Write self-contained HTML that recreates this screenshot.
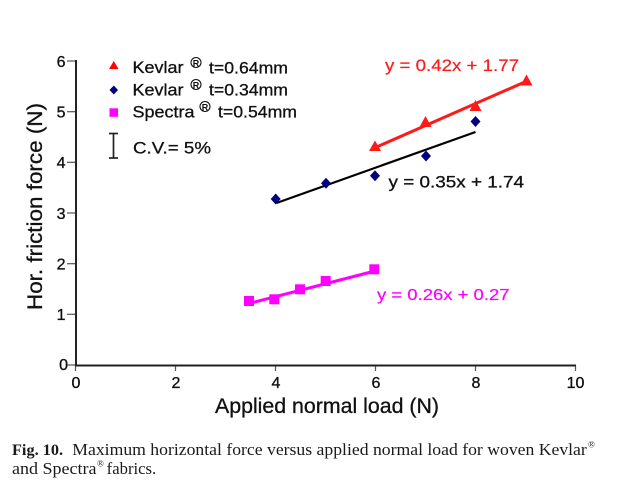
<!DOCTYPE html>
<html>
<head>
<meta charset="utf-8">
<style>
  html, body { margin: 0; padding: 0; background: #fff; }
  body { width: 639px; height: 494px; overflow: hidden; }
  svg { display: block; }
  .sans { font-family: "Liberation Sans", Arial, sans-serif; }
  .serif { font-family: "Liberation Serif", "Times New Roman", serif; }
</style>
</head>
<body>
<svg width="639" height="494" viewBox="0 0 639 494" xmlns="http://www.w3.org/2000/svg">
  <rect x="0" y="0" width="639" height="494" fill="#fff"/>

  <!-- y ticks -->
  <g stroke="#555" stroke-width="1.2">
    <line x1="67" y1="61" x2="76" y2="61"/>
    <line x1="67" y1="111.7" x2="76" y2="111.7"/>
    <line x1="67" y1="162.3" x2="76" y2="162.3"/>
    <line x1="67" y1="213" x2="76" y2="213"/>
    <line x1="67" y1="263.7" x2="76" y2="263.7"/>
    <line x1="67" y1="314.3" x2="76" y2="314.3"/>
    <line x1="67" y1="365" x2="76" y2="365"/>
  </g>
  <!-- x ticks -->
  <g stroke="#555" stroke-width="1.2">
    <line x1="75.5" y1="365" x2="75.5" y2="371"/>
    <line x1="175.5" y1="365" x2="175.5" y2="371"/>
    <line x1="275.5" y1="365" x2="275.5" y2="371"/>
    <line x1="375.5" y1="365" x2="375.5" y2="371"/>
    <line x1="475.5" y1="365" x2="475.5" y2="371"/>
    <line x1="575.5" y1="365" x2="575.5" y2="371"/>
  </g>
  <!-- axes -->
  <line x1="76" y1="60" x2="76" y2="366" stroke="#222" stroke-width="2"/>
  <line x1="75" y1="365.5" x2="576" y2="365.5" stroke="#222" stroke-width="2"/>

  <!-- y tick labels -->
  <g class="sans" font-size="16" fill="#111" stroke="#111" stroke-width="0.35" text-anchor="end">
    <text x="65.5" y="67">6</text>
    <text x="65.5" y="117.5">5</text>
    <text x="65.5" y="168">4</text>
    <text x="65.5" y="219">3</text>
    <text x="65.5" y="269.5">2</text>
    <text x="65.5" y="320">1</text>
    <text x="68" y="370">0</text>
  </g>
  <!-- x tick labels -->
  <g class="sans" font-size="16" fill="#111" stroke="#111" stroke-width="0.35" text-anchor="middle">
    <text x="76" y="388">0</text>
    <text x="176" y="388">2</text>
    <text x="276" y="388">4</text>
    <text x="376" y="388">6</text>
    <text x="476" y="388">8</text>
    <text x="575.5" y="388">10</text>
  </g>

  <!-- axis titles -->
  <text class="sans" x="215" y="413" font-size="21" fill="#111" stroke="#111" stroke-width="0.3" textLength="224" lengthAdjust="spacingAndGlyphs">Applied normal load (N)</text>
  <text class="sans" font-size="21" fill="#111" stroke="#111" stroke-width="0.3" transform="translate(42,310) rotate(-90)" textLength="207" lengthAdjust="spacingAndGlyphs">Hor. friction force (N)</text>

  <!-- legend -->
  <polygon points="113.8,61 109,69 118.5,69" fill="#ff0000"/>
  <polygon points="113.8,85.5 118,90 113.8,94.5 109.5,90" fill="#000080"/>
  <rect x="109.5" y="108.3" width="8.5" height="8.5" fill="#ff00ff"/>
  <g class="sans" font-size="17" fill="#111" stroke="#111" stroke-width="0.3">
    <text x="132.5" y="73" textLength="51" lengthAdjust="spacingAndGlyphs">Kevlar</text>
    <text x="209" y="73.5" textLength="79" lengthAdjust="spacingAndGlyphs">t=0.64mm</text>
    <text x="132.5" y="95.5" textLength="51" lengthAdjust="spacingAndGlyphs">Kevlar</text>
    <text x="209" y="95.5" textLength="79" lengthAdjust="spacingAndGlyphs">t=0.34mm</text>
    <text x="132.5" y="117.5" textLength="62" lengthAdjust="spacingAndGlyphs">Spectra</text>
    <text x="218" y="117.5" textLength="79" lengthAdjust="spacingAndGlyphs">t=0.54mm</text>
    <text x="133" y="153.5" textLength="78" lengthAdjust="spacingAndGlyphs">C.V.= 5%</text>
  </g>
  <!-- registered marks -->
  <g class="sans" fill="#111" text-anchor="middle">
    <circle cx="196" cy="62.5" r="5" fill="none" stroke="#111" stroke-width="1.1"/>
    <text x="196" y="66.3" font-size="9" font-weight="bold">R</text>
    <circle cx="196" cy="84.5" r="5" fill="none" stroke="#111" stroke-width="1.1"/>
    <text x="196" y="88.3" font-size="9" font-weight="bold">R</text>
    <circle cx="205" cy="106.5" r="5" fill="none" stroke="#111" stroke-width="1.1"/>
    <text x="205" y="110.3" font-size="9" font-weight="bold">R</text>
  </g>
  <!-- CV error bar icon -->
  <g stroke="#222" stroke-width="1.7">
    <line x1="113.5" y1="133.5" x2="113.5" y2="158"/>
    <line x1="109" y1="133.5" x2="118" y2="133.5"/>
    <line x1="109" y1="158" x2="118" y2="158"/>
  </g>

  <!-- Fit lines -->
  <line x1="372" y1="149" x2="527" y2="81" stroke="#ff1a1a" stroke-width="3"/>
  <line x1="276.5" y1="203" x2="475.5" y2="132" stroke="#000" stroke-width="2.2"/>
  <line x1="247" y1="304" x2="373" y2="271.5" stroke="#ff00ff" stroke-width="3"/>

  <!-- Red triangles -->
  <g fill="#ff1a1a">
    <polygon points="375,140.5 369,151 381,151"/>
    <polygon points="425.5,116 419.5,127 431.5,127"/>
    <polygon points="475.5,100 469.5,111 481.5,111"/>
    <polygon points="526.5,74.5 520.5,85.5 532.5,85.5"/>
  </g>
  <!-- Blue diamonds -->
  <g fill="#000080">
    <polygon points="275.7,193.5 280.7,199 275.7,204.5 270.7,199"/>
    <polygon points="326,177.8 331,183.3 326,188.8 321,183.3"/>
    <polygon points="375,170.2 380,175.7 375,181.2 370,175.7"/>
    <polygon points="426,150.5 431,156 426,161.5 421,156"/>
    <polygon points="475.5,116 480.5,121.5 475.5,127 470.5,121.5"/>
  </g>
  <!-- Magenta squares -->
  <g fill="#ff00ff">
    <rect x="244" y="296" width="10" height="10"/>
    <rect x="269.3" y="294.3" width="10" height="10"/>
    <rect x="295" y="284.3" width="10" height="10"/>
    <rect x="320.7" y="276" width="10" height="10"/>
    <rect x="369.3" y="264.3" width="10" height="10"/>
  </g>

  <!-- equations -->
  <text class="sans" x="385" y="71" font-size="17" fill="#ff1a1a" stroke="#ff1a1a" stroke-width="0.2" textLength="134" lengthAdjust="spacingAndGlyphs">y = 0.42x + 1.77</text>
  <text class="sans" x="388.5" y="187.5" font-size="17" fill="#111" stroke="#111" stroke-width="0.3" textLength="135.5" lengthAdjust="spacingAndGlyphs">y = 0.35x + 1.74</text>
  <text class="sans" x="377" y="300" font-size="16" fill="#ff00ff" stroke="#ff00ff" stroke-width="0.2" textLength="132.5" lengthAdjust="spacingAndGlyphs">y = 0.26x + 0.27</text>

  <!-- caption -->
  <g class="serif" fill="#1a1a1a">
    <text x="12" y="455" font-size="16" font-weight="bold" textLength="51" lengthAdjust="spacingAndGlyphs">Fig. 10.</text>
    <text x="72.3" y="455" font-size="16.5" textLength="514.5" lengthAdjust="spacingAndGlyphs">Maximum horizontal force versus applied normal load for woven Kevlar</text>
    <text x="588" y="447.5" font-size="9">®</text>
    <text x="12" y="474" font-size="16.5" textLength="84.5" lengthAdjust="spacingAndGlyphs">and Spectra</text>
    <text x="97" y="466.5" font-size="9">®</text>
    <text x="106.7" y="474" font-size="16.5" textLength="49.5" lengthAdjust="spacingAndGlyphs">fabrics.</text>
  </g>
</svg>
</body>
</html>
